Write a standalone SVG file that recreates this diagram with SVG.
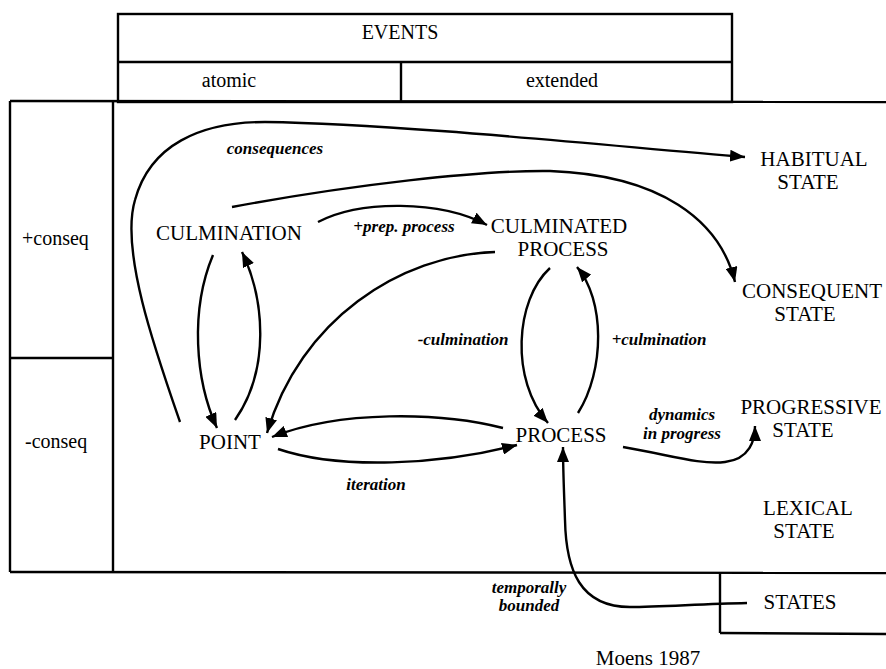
<svg xmlns="http://www.w3.org/2000/svg" width="886" height="669" viewBox="0 0 886 669">
<style>
  .frame { fill: none; stroke: #000; stroke-width: 2.4; }
  .edge { fill: none; stroke: #000; stroke-width: 2.4; }
  .node { font-family: "Liberation Serif", "Times New Roman", serif; font-size: 21px; fill: #000; text-anchor: middle; }
  .head { font-family: "Liberation Serif", "Times New Roman", serif; font-size: 20px; fill: #000; text-anchor: middle; }
  .side { font-family: "Liberation Serif", "Times New Roman", serif; font-size: 20px; fill: #000; }
  .lab { font-family: "Liberation Serif", "Times New Roman", serif; font-size: 17px; font-style: italic; font-weight: bold; fill: #000; text-anchor: middle; }
</style>
<defs>
  <marker id="arr" markerUnits="userSpaceOnUse" markerWidth="16" markerHeight="12" refX="15" refY="6" orient="auto">
    <path d="M0,0 L15,6 L0,12 Z" fill="#000"/>
  </marker>
</defs>
<rect width="886" height="669" fill="#fff"/>

<g id="frames">
  <rect class="frame" x="118" y="14" width="614" height="88"/>
  <line class="frame" x1="118" y1="62" x2="732" y2="62"/>
  <line class="frame" x1="401" y1="62" x2="401" y2="102"/>
  <line class="frame" x1="10" y1="101" x2="886" y2="102"/>
  <line class="frame" x1="10" y1="101" x2="10" y2="572"/>
  <line class="frame" x1="10" y1="572" x2="886" y2="573"/>
  <line class="frame" x1="113" y1="101" x2="113" y2="572"/>
  <line class="frame" x1="10" y1="358" x2="113" y2="358"/>
  <line class="frame" x1="720" y1="573" x2="720" y2="633"/>
  <line class="frame" x1="720" y1="633" x2="886" y2="634"/>
</g>

<g id="headers">
  <text class="head" x="400" y="39">EVENTS</text>
  <text class="head" x="229" y="87">atomic</text>
  <text class="head" x="562" y="87">extended</text>
  <text class="side" x="22" y="245">+conseq</text>
  <text class="side" x="25" y="448">-conseq</text>
</g>

<g id="connectors">
  <path class="edge" d="M180,422 C155,350 120,250 135,200 C150,145 200,122 265,122 C400,124 600,145 745,157" marker-end="url(#arr)"/>
  <path class="edge" d="M232,207 C350,185 480,170 550,171 C660,175 720,220 735,282" marker-end="url(#arr)"/>
  <path class="edge" d="M318,222 C360,200 440,200 487,225" marker-end="url(#arr)"/>
  <path class="edge" d="M213,255 C190,310 195,380 217,428" marker-end="url(#arr)"/>
  <path class="edge" d="M235,420 C270,370 265,300 242,252" marker-end="url(#arr)"/>
  <path class="edge" d="M495,252 C400,255 300,320 267,433" marker-end="url(#arr)"/>
  <path class="edge" d="M503,428 C440,412 340,410 272,437" marker-end="url(#arr)"/>
  <path class="edge" d="M278,449 C340,470 440,465 517,445" marker-end="url(#arr)"/>
  <path class="edge" d="M550,268 C515,300 510,380 548,423" marker-end="url(#arr)"/>
  <path class="edge" d="M578,413 C605,370 605,300 577,267" marker-end="url(#arr)"/>
  <path class="edge" d="M623,447 C670,455 700,465 725,462 C750,459 755,440 755,426" marker-end="url(#arr)"/>
  <path class="edge" d="M747,603 C700,604 660,607 630,607 C580,607 566,570 565,520 C564,490 563,470 563,447" marker-end="url(#arr)"/>
</g>

<g id="edge-labels">
  <text class="lab" x="275" y="154">consequences</text>
  <text class="lab" x="404" y="232">+prep. process</text>
  <text class="lab" x="463" y="345">-culmination</text>
  <text class="lab" x="659" y="345">+culmination</text>
  <text class="lab" x="682" y="420">dynamics</text>
  <text class="lab" x="682" y="439">in progress</text>
  <text class="lab" x="376" y="490">iteration</text>
  <text class="lab" x="529" y="593">temporally</text>
  <text class="lab" x="529" y="611">bounded</text>
</g>

<g id="culmination"><text class="node" x="229" y="240">CULMINATION</text></g>
<g id="culminated-process">
  <text class="node" x="559" y="233">CULMINATED</text>
  <text class="node" x="563" y="256">PROCESS</text>
</g>
<g id="habitual-state">
  <text class="node" x="814" y="166">HABITUAL</text>
  <text class="node" x="808" y="189">STATE</text>
</g>
<g id="consequent-state">
  <text class="node" x="812" y="298">CONSEQUENT</text>
  <text class="node" x="805" y="321">STATE</text>
</g>
<g id="point"><text class="node" x="230" y="449">POINT</text></g>
<g id="process"><text class="node" x="561" y="442">PROCESS</text></g>
<g id="progressive-state">
  <text class="node" x="811" y="414">PROGRESSIVE</text>
  <text class="node" x="803" y="437">STATE</text>
</g>
<g id="lexical-state">
  <text class="node" x="808" y="515">LEXICAL</text>
  <text class="node" x="804" y="538">STATE</text>
</g>
<g id="states"><text class="node" x="800" y="609">STATES</text></g>
<g id="credit"><text class="node" x="648" y="665">Moens 1987</text></g>
</svg>
